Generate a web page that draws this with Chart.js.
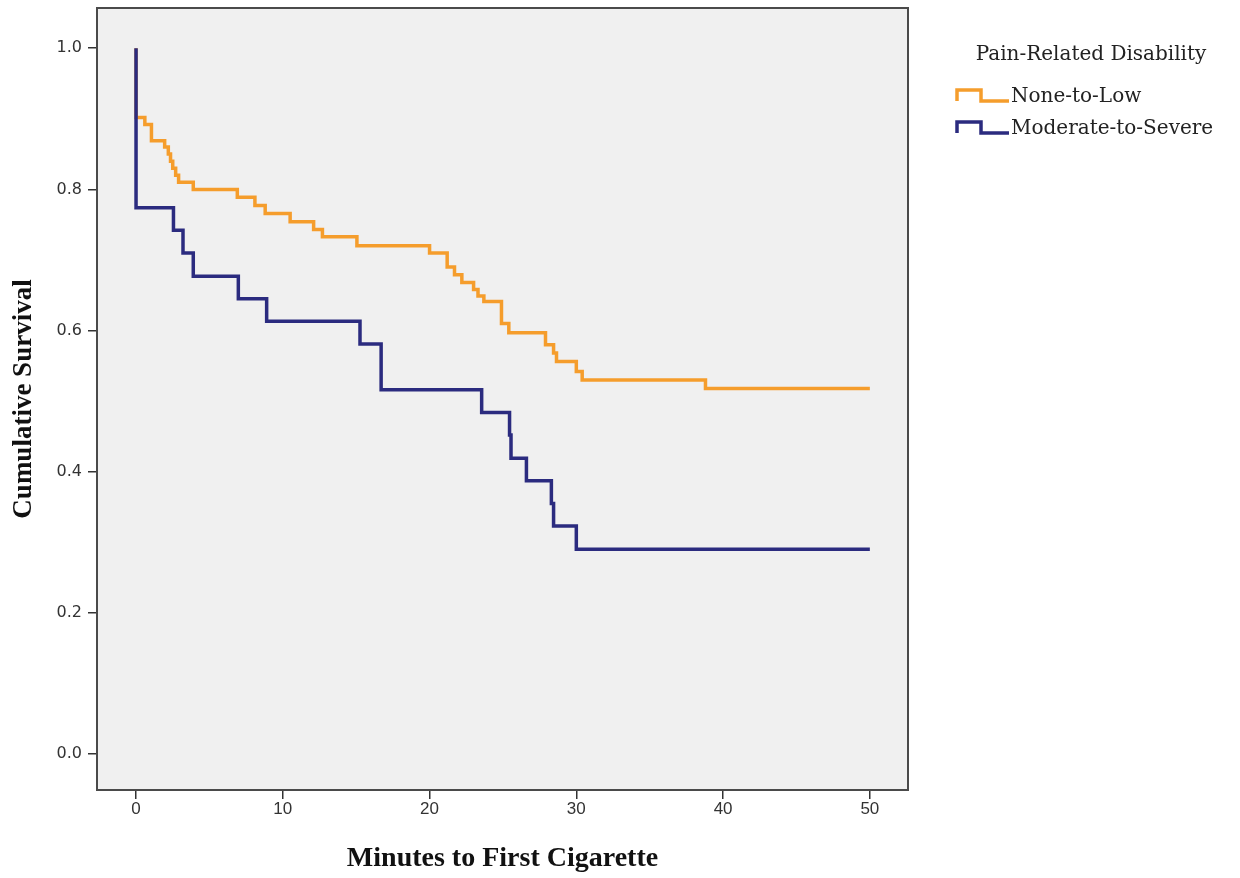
<!DOCTYPE html>
<html>
<head>
<meta charset="utf-8">
<script src="https://cdn.jsdelivr.net/npm/chart.js@4.4.1/dist/chart.umd.min.js"></script>
<style>
  html, body { margin: 0; padding: 0; background: #ffffff; }
  #wrap { width: 1240px; height: 878px; }
</style>
</head>
<body>
<div id="wrap"><canvas id="kmChart" width="1240" height="878"></canvas></div>
<script>
  // Kaplan-Meier steps: time (minutes) -> survival after that time
  const lowTimes = [0, 0, 0.6, 1.05, 1.95, 2.2, 2.35, 2.5, 2.7, 2.9, 3.9, 6.9, 8.1, 8.8, 10.5, 12.1, 12.7, 15.05, 20.0, 21.2, 21.7, 22.2, 23.0, 23.3, 23.7, 24.9, 25.4, 27.9, 28.45, 28.65, 30.0, 30.4, 38.8, 50];
  const lowSurv  = [1.0, 0.902, 0.892, 0.869, 0.860, 0.850, 0.840, 0.830, 0.820, 0.810, 0.800, 0.789, 0.777, 0.766, 0.754, 0.743, 0.733, 0.720, 0.710, 0.690, 0.679, 0.668, 0.658, 0.649, 0.641, 0.610, 0.597, 0.580, 0.568, 0.556, 0.542, 0.530, 0.518, 0.518];

  const highTimes = [0, 0, 2.55, 3.2, 3.9, 6.97, 8.9, 15.26, 16.7, 23.55, 25.45, 25.55, 26.6, 28.3, 28.45, 30.0, 50];
  const highSurv  = [1.0, 0.774, 0.742, 0.710, 0.677, 0.645, 0.613, 0.581, 0.516, 0.484, 0.452, 0.419, 0.387, 0.355, 0.323, 0.290, 0.290];

  const groupLabels = ["None-to-Low", "Moderate-to-Severe"];
  const legendTitle = "Pain-Related Disability";
  const xTicks = [0, 10, 20, 30, 40, 50];
  const yTicks = [0, 0.2, 0.4, 0.6, 0.8, 1.0];

  const toPoints = (xs, ys) => xs.map((x, i) => ({ x: x, y: ys[i] }));

  // серый фон области графика и рамка
  const plotFrame = {
    id: "plotFrame",
    beforeDraw(chart) {
      const a = chart.chartArea, ctx = chart.ctx;
      ctx.save();
      ctx.fillStyle = "#f0f0f0";
      ctx.fillRect(a.left, a.top, a.right - a.left, a.bottom - a.top);
      ctx.restore();
    },
    afterDraw(chart) {
      const a = chart.chartArea, ctx = chart.ctx;
      ctx.save();
      ctx.strokeStyle = "#4a4a4a";
      ctx.lineWidth = 2;
      ctx.strokeRect(a.left, a.top, a.right - a.left, a.bottom - a.top);
      ctx.restore();
    }
  };

  // легенда со ступенькой, как в SPSS
  const stepLegend = {
    id: "stepLegend",
    afterDraw(chart) {
      const ctx = chart.ctx;
      ctx.save();
      ctx.fillStyle = "#222222";
      ctx.font = '20px "DejaVu Serif"';
      ctx.textAlign = "center";
      ctx.textBaseline = "middle";
      ctx.fillText(legendTitle, 1091, 55);
      ctx.textAlign = "left";
      chart.data.datasets.forEach((ds, i) => {
        const y = 96 + i * 32;
        ctx.strokeStyle = ds.borderColor;
        ctx.lineWidth = 3.5;
        ctx.lineJoin = "miter";
        ctx.beginPath();
        ctx.moveTo(957, y + 5);
        ctx.lineTo(957, y - 6);
        ctx.lineTo(981, y - 6);
        ctx.lineTo(981, y + 5);
        ctx.lineTo(1009, y + 5);
        ctx.stroke();
        ctx.fillStyle = "#222222";
        ctx.fillText(ds.label, 1011, y + 1);
      });
      ctx.restore();
    }
  };

  new Chart(document.getElementById("kmChart"), {
    type: "line",
    data: {
      datasets: [
        { label: groupLabels[0], data: toPoints(lowTimes, lowSurv), borderColor: "#f59d2c", borderWidth: 3.5, stepped: "before", pointRadius: 0, fill: false, order: 1 },
        { label: groupLabels[1], data: toPoints(highTimes, highSurv), borderColor: "#2b2b7f", borderWidth: 3.5, stepped: "before", pointRadius: 0, fill: false, order: 0 }
      ]
    },
    options: {
      responsive: false,
      animation: false,
      layout: { padding: { top: 8, right: 332, left: 0, bottom: 0 } },
      plugins: { legend: { display: false }, tooltip: { enabled: false } },
      scales: {
        x: {
          type: "linear",
          min: -2.66,
          max: 52.6,
          afterBuildTicks: (s) => { s.ticks = xTicks.map(v => ({ value: v })); },
          afterFit: (s) => { s.height = 88; s.paddingLeft = 0; s.paddingRight = 0; },
          grid: { drawOnChartArea: false, drawTicks: true, tickLength: 9, tickColor: "#333", lineWidth: 1.5 },
          border: { display: false },
          ticks: { color: "#333", padding: 0, font: { family: '"Liberation Sans Narrow", "Liberation Sans"', size: 17 } },
          title: { display: true, text: "Minutes to First Cigarette", color: "#111", padding: 2, font: { family: '"Liberation Serif"', size: 28, weight: "bold" } }
        },
        y: {
          min: -0.051,
          max: 1.057,
          afterBuildTicks: (s) => { s.ticks = yTicks.map(v => ({ value: v })); },
          afterFit: (s) => { s.width = 97; s.paddingTop = 0; s.paddingBottom = 0; },
          grid: { drawOnChartArea: false, drawTicks: true, tickLength: 9, tickColor: "#333", lineWidth: 1.5 },
          border: { display: false },
          ticks: { color: "#333", padding: 6, callback: (v) => v.toFixed(1), font: { family: '"DejaVu Sans"', size: 16 } },
          title: { display: true, text: "Cumulative Survival", color: "#111", padding: 8, font: { family: '"Liberation Serif"', size: 27, weight: "bold" } }
        }
      }
    },
    plugins: [plotFrame, stepLegend]
  });
</script>
</body>
</html>
